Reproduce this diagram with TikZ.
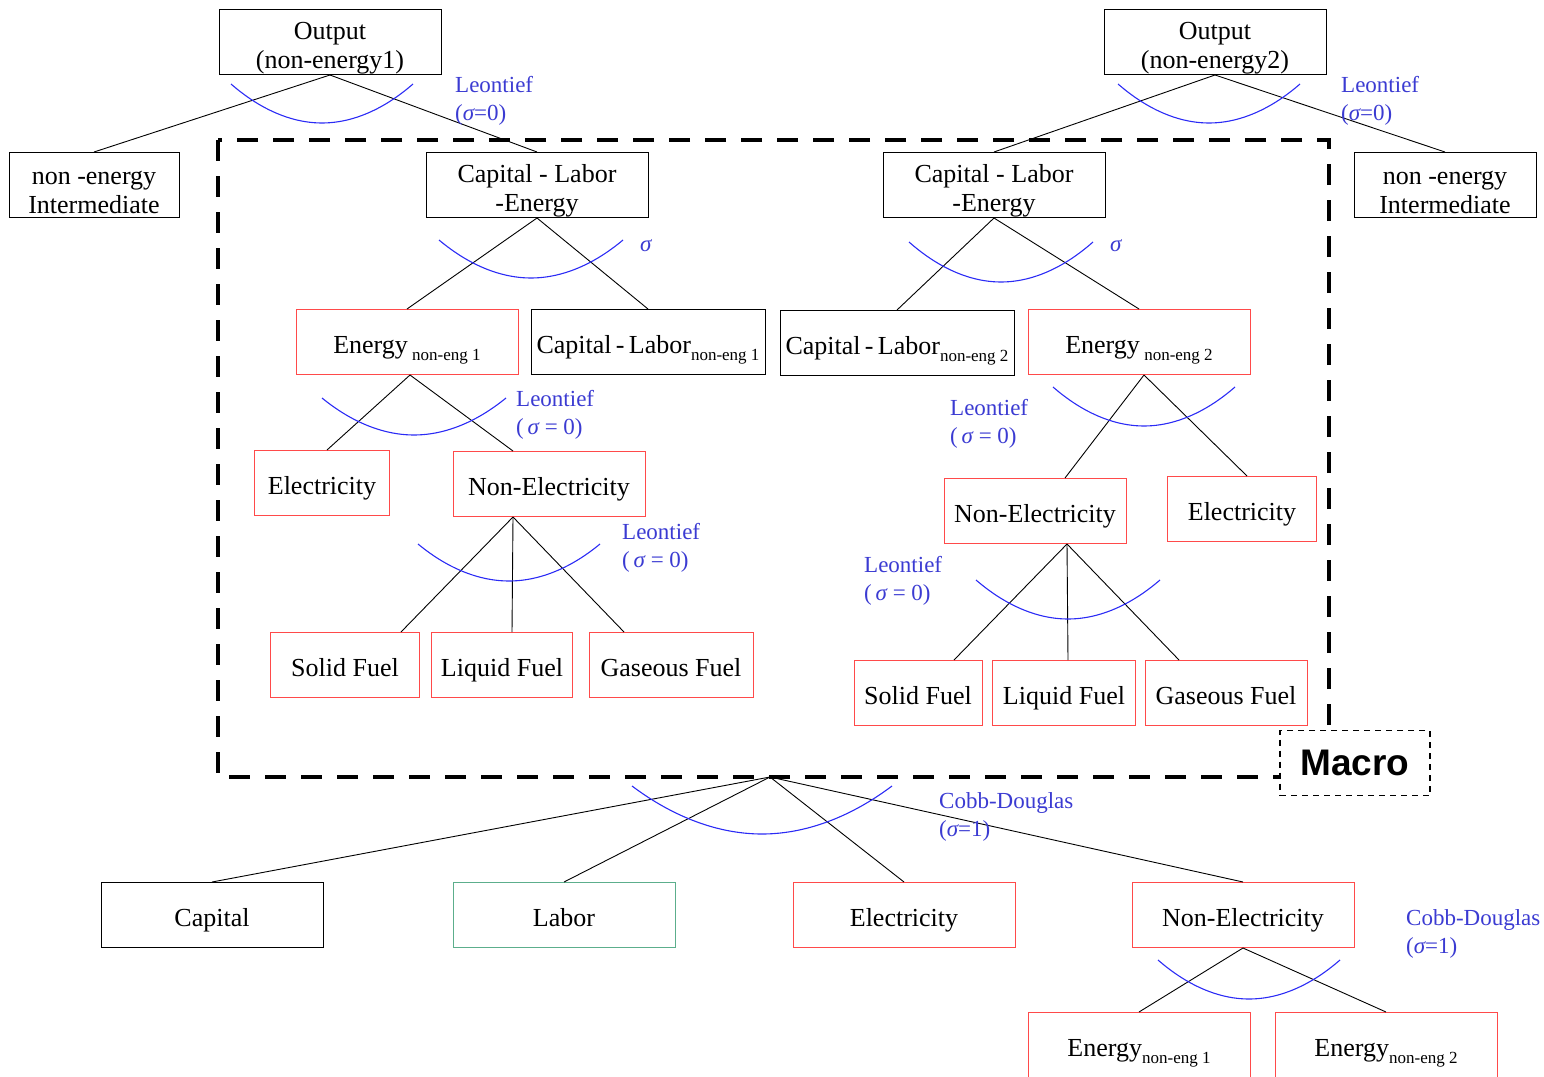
\documentclass[tikz,border=0pt]{standalone}
\usepackage{fontspec}
\setmainfont{Liberation Serif}
\setsansfont{Liberation Sans}
\usepackage{xcolor}
\definecolor{NestRed}{HTML}{FF4A4A}
\definecolor{NestGreen}{HTML}{5CAE8C}
\definecolor{NestBlue}{HTML}{2B2BF5}
\definecolor{NestLabel}{HTML}{3B3BD2}
\usepackage{tikz}
\usetikzlibrary{positioning,calc}
\newcommand{\lowsub}[1]{\raisebox{-0.3em}[0pt][0pt]{\fontsize{17}{17}\selectfont #1}}
\newcommand{\sig}{{\itshape σ}}
\newcommand{\lift}{\rule[-7pt]{0pt}{36pt}}

\begin{document}
\begin{tikzpicture}[x=1pt,y=-1pt,
  box/.style={draw,line width=1pt,minimum width=222pt,minimum height=65pt,inner sep=0pt,align=center,
    font=\fontsize{26}{29}\selectfont},
  rbox/.style={box,draw=NestRed},
  link/.style={line width=0.9pt},
  ces/.style={NestBlue,line width=1.1pt},
  tag/.style={NestLabel,align=left,anchor=west,inner sep=0pt,font=\fontsize{23}{28}\selectfont},
  macroline/.style={line width=4.5pt,dash pattern=on 21pt off 15pt}]
  \useasboundingbox (0,0) rectangle (1544,1076);
  \draw[macroline] (218,140) rectangle (1329,777);
  \coordinate (cd) at (770,777);

  \node[box] (out1) at (330,42) {\lift Output\\(non-energy1)};
  \node[box] (out2) at (1215,42) {\lift Output\\(non-energy2)};
  \node[box,minimum width=170pt] (nei1) at (94,185) {\lift non -energy\\Intermediate};
  \node[box,minimum width=182pt] (nei2) at (1445,185) {\lift non -energy\\Intermediate};
  \node[box] (cle1) at (537,185) {\lift Capital - Labor\\-Energy};
  \node[box] (cle2) at (994,185) {\lift Capital - Labor\\-Energy};

  \node[rbox] (en1) at (407,342) {\lift Energy\,\lowsub{non-eng 1}};
  \node[box,minimum width=234pt] (cl1) at (648,342) {\lift Capital\,-\,Labor\lowsub{non-eng 1}};
  \node[box,minimum width=234pt] (cl2) at (897,343) {\lift Capital\,-\,Labor\lowsub{non-eng 2}};
  \node[rbox] (en2) at (1139,342) {\lift Energy\,\lowsub{non-eng 2}};

  \node[rbox,minimum width=135pt] (el1) at (322,483) {\lift Electricity};
  \node[rbox,minimum width=192pt] (ne1) at (549,484) {\lift Non-Electricity};
  \node[rbox,minimum width=149pt] (sf1) at (345,665) {\lift Solid Fuel};
  \node[rbox,minimum width=141pt] (lf1) at (502,665) {\lift Liquid Fuel};
  \node[rbox,minimum width=164pt] (gf1) at (671,665) {\lift Gaseous Fuel};

  \node[rbox,minimum width=182pt] (ne2) at (1035,511) {\lift Non-Electricity};
  \node[rbox,minimum width=149pt] (el2) at (1242,509) {\lift Electricity};
  \node[rbox,minimum width=128pt] (sf2) at (918,693) {\lift Solid Fuel};
  \node[rbox,minimum width=143pt] (lf2) at (1064,693) {\lift Liquid Fuel};
  \node[rbox,minimum width=162pt] (gf2) at (1226,693) {\lift Gaseous Fuel};

  \node[box] (cap) at (212,915) {\lift Capital};
  \node[box,draw=NestGreen] (lab) at (564,915) {\lift Labor};
  \node[rbox] (el3) at (904,915) {\lift Electricity};
  \node[rbox] (ne3) at (1243,915) {\lift Non-Electricity};
  \node[rbox] (en3) at (1139,1045) {\lift Energy\lowsub{non-eng 1}};
  \node[rbox] (en4) at (1386,1045) {\lift Energy\lowsub{non-eng 2}};

  \node[draw,fill=white,line width=1.5pt,dash pattern=on 6pt off 5pt,minimum width=150pt,minimum height=65pt,
    font=\fontsize{37}{40}\selectfont\sffamily\bfseries] (macro) at (1355,763) {Macro};

  \foreach \c in {nei1,cle1} \draw[link] (out1.south) -- (\c.north);
  \foreach \c in {cle2,nei2} \draw[link] (out2.south) -- (\c.north);
  \foreach \c in {en1,cl1} \draw[link] (cle1.south) -- (\c.north);
  \foreach \c in {cl2,en2} \draw[link] (cle2.south) -- (\c.north);
  \foreach \c/\s in {el1/5,ne1/-36} \draw[link] ([xshift=3pt]en1.south) -- ([xshift=\s pt]\c.north);
  \foreach \c/\s in {sf1/56,lf1/10,gf1/-47} \draw[link] ([xshift=-36pt]ne1.south) -- ([xshift=\s pt]\c.north);
  \foreach \c/\s in {ne2/30,el2/5} \draw[link] ([xshift=5pt]en2.south) -- ([xshift=\s pt]\c.north);
  \foreach \c/\s in {sf2/36,lf2/4,gf2/-47} \draw[link] ([xshift=32pt]ne2.south) -- ([xshift=\s pt]\c.north);
  \foreach \c in {cap,lab,el3,ne3} \draw[link] (cd) -- (\c.north);
  \foreach \c in {en3,en4} \draw[link] (ne3.south) -- (\c.north);

  \foreach \cx/\cy/\w/\d in {322/84/91/39,1209/84/91/39,531/240/92/38,1001/242/92/40,414/398/92/37,
    509/544/91/37,1144/387/91/39,1068/580/92/39,762/786/130/48,1249/960/91/39}
    {\draw[ces] ({\cx-\w},\cy) parabola bend (\cx,{\cy+\d}) ({\cx+\w},\cy);}

  \node[tag] (t1) at (455,101) {Leontief\\(\sig=0)};
  \node[tag] (t2) at (1341,101) {Leontief\\(\sig=0)};
  \node[tag] (s1) at (640,246) {\sig};
  \node[tag] (s2) at (1110,246) {\sig};
  \node[tag] (t3) at (516,415) {Leontief\\(\,\sig{} = 0)};
  \node[tag] (t4) at (622,548) {Leontief\\(\,\sig{} = 0)};
  \node[tag] (t5) at (950,424) {Leontief\\(\,\sig{} = 0)};
  \node[tag] (t6) at (864,581) {Leontief\\(\,\sig{} = 0)};
  \node[tag] (t7) at (939,817) {Cobb-Douglas\\(\sig=1)};
  \node[tag] (t8) at (1406,934) {Cobb-Douglas\\(\sig=1)};
\end{tikzpicture}
\end{document}
